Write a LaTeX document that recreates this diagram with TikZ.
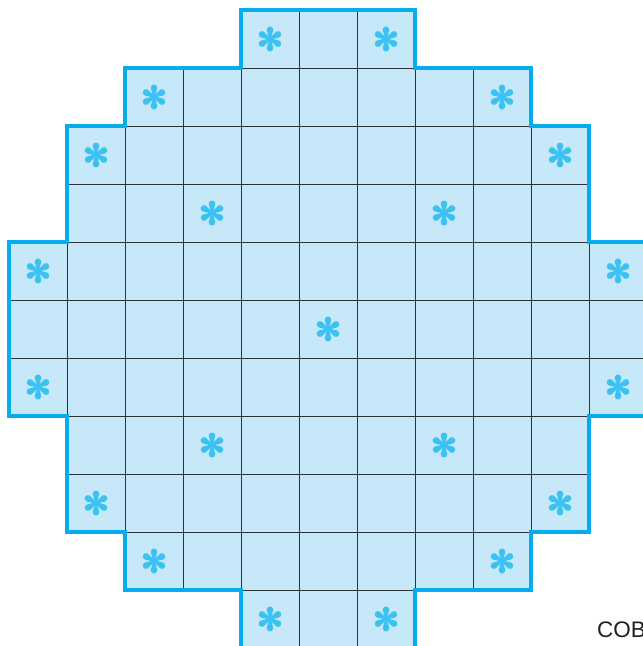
\documentclass[tikz,border=0pt]{standalone}
\usepackage{fontspec}
\setmainfont{Liberation Sans}
\definecolor{cellfill}{HTML}{C6E8F9}
\definecolor{rimblue}{HTML}{05ADEC}
\definecolor{astcol}{HTML}{3CC2F2}
\definecolor{gridcol}{HTML}{2E3236}
\tikzset{
  cellst/.style={fill=cellfill,draw=gridcol,line width=0.9pt},
  rimst/.style={draw=rimblue,line width=3.3pt,line join=miter},
  astpic/.pic={
    \foreach \a in {0,60,120,180,240,300}
      \fill[astcol,rotate=\a] (-0.8,0) -- (-3.3,9.2) arc[start angle=180,end angle=0,radius=3.3] -- (0.8,0) -- cycle;
  }
}
\begin{document}
\begin{tikzpicture}[x=1pt,y=-1pt]
\useasboundingbox (0,0) rectangle (643,646);
\clip (0,0) rectangle (643,646);
% cells
\foreach \r/\a/\b in {0/4/6,1/2/8,2/1/9,3/1/9,4/0/10,5/0/10,6/0/10,7/1/9,8/1/9,9/2/8,10/4/6}{
  \foreach \c in {\a,...,\b}{
    \path[cellst] ({9+58*\c},{10+58*\r}) rectangle ++(58,58);
  }
}
% asterisks
\foreach \c/\r in {4/0,6/0,2/1,8/1,1/2,9/2,3/3,7/3,0/4,10/4,5/5,0/6,10/6,3/7,7/7,1/8,9/8,2/9,8/9,4/10,6/10}{
  \pic at ({9+58*\c+29},{10+58*\r+29}) {astpic};
}
% outline
\begin{scope}[x=58pt,y=-58pt,shift={(9pt,-10pt)}]
\draw[rimst] (4,0) -- (7,0) -- (7,1) -- (9,1) -- (9,2) -- (10,2) -- (10,4) -- (11,4) -- (11,7) -- (10,7) -- (10,9) -- (9,9) -- (9,10) -- (7,10) -- (7,11) -- (4,11) -- (4,10) -- (2,10) -- (2,9) -- (1,9) -- (1,7) -- (0,7) -- (0,4) -- (1,4) -- (1,2) -- (2,2) -- (2,1) -- (4,1) -- cycle;
\end{scope}
\node[anchor=base west,inner sep=0pt,font=\fontsize{22.5}{22.5}\selectfont,text=black!88] (lbl) at (597,637) {COB};
\end{tikzpicture}
\end{document}
